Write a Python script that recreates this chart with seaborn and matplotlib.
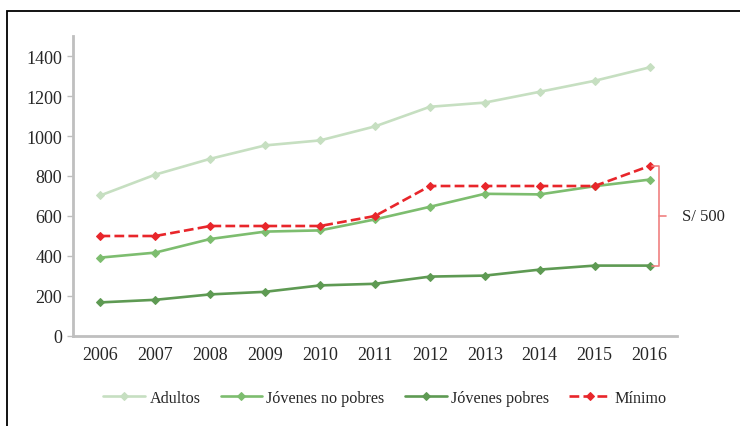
import matplotlib
matplotlib.use("Agg")
import matplotlib.pyplot as plt
import seaborn as sns
import pandas as pd
from matplotlib.patches import Rectangle

years = ["2006", "2007", "2008", "2009", "2010", "2011", "2012", "2013", "2014", "2015", "2016"]
adultos = [703, 807, 886, 953, 978, 1048, 1146, 1167, 1221, 1276, 1343]
jovenes_no_pobres = [392, 417, 485, 522, 528, 583, 646, 711, 708, 749, 782]
jovenes_pobres = [168, 181, 208, 221, 253, 261, 297, 302, 332, 352, 352]
minimo = [500, 500, 550, 550, 550, 600, 750, 750, 750, 750, 850]
bracket_label = "S/ 500"

sns.set_theme(style="white")
plt.rcParams["font.family"] = ["Liberation Serif", "DejaVu Serif"]

fig = plt.figure(figsize=(7.4, 4.27), dpi=100)
ax = fig.add_axes([73/740, 1-337/427, (677-73)/740, (337-37)/427])

idx = list(range(len(years)))
series = [
    ("Adultos", adultos, "#c6dfc1", "-"),
    ("Jóvenes no pobres", jovenes_no_pobres, "#7dbd6f", "-"),
    ("Jóvenes pobres", jovenes_pobres, "#5e9a53", "-"),
    ("Mínimo", minimo, "#e8262b", "--"),
]
for name, vals, col, ls in series:
    df = pd.DataFrame({"x": idx, "y": vals})
    sns.lineplot(data=df, x="x", y="y", ax=ax, color=col, linestyle=ls,
                 marker="D", markersize=4.5, markeredgecolor=col, linewidth=1.9,
                 label=name, dashes=(4, 3) if ls == "--" else None)

ax.set_xlim(-0.5, len(years) - 0.5)
ax.set_ylim(0, 1500)
ax.set_yticks(range(0, 1401, 200))
ax.set_xticks(idx)
ax.set_xticklabels(years)
ax.set_xlabel("")
ax.set_ylabel("")
for s in ["top", "right"]:
    ax.spines[s].set_visible(False)
for s in ["left", "bottom"]:
    ax.spines[s].set_color("#bfbfbf")
    ax.spines[s].set_linewidth(2)
ax.tick_params(axis="y", length=4, width=1, color="#bfbfbf", labelsize=13, pad=4, left=True)
ax.tick_params(axis="x", length=0, labelsize=13, pad=7)

# bracket
top, bot = minimo[-1], jovenes_pobres[-1]
xb = len(years) - 1 + 0.18
bc = "#f08080"
ax.plot([len(years) - 1 + 0.05, xb, xb, len(years) - 1 + 0.05], [top, top, bot, bot],
        color=bc, lw=1.2, clip_on=False)
mid = (top + bot) / 2
ax.plot([xb, xb + 0.12], [mid, mid], color=bc, lw=1.2, clip_on=False)
ax.text(xb + 0.42, mid, bracket_label, va="center", ha="left", fontsize=12, clip_on=False)

leg = ax.legend(loc="center", bbox_to_anchor=(0.517, -0.207), ncol=4, frameon=False,
                fontsize=11.6, handlelength=2.6, columnspacing=1.25, handletextpad=0.25)

fig.add_artist(Rectangle((7/740, -0.05), 1.0, 1 - 12/427 + 0.05, transform=fig.transFigure,
                         fill=False, edgecolor="black", lw=1.3, clip_on=False))

fig.savefig("out.png", dpi=100)
